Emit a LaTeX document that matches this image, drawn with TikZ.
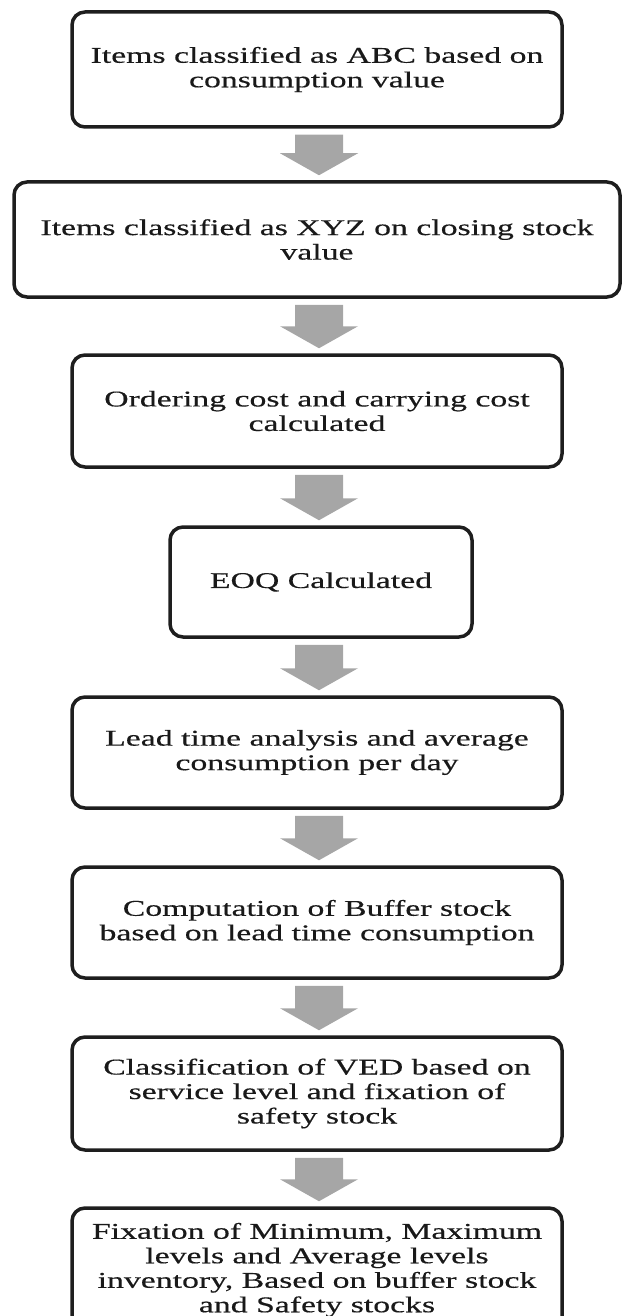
\documentclass[tikz,border=0pt]{standalone}
\usepackage{fontspec}
\setmainfont{Liberation Serif}[FakeStretch=1.5,FakeBold=0.4]
\usetikzlibrary{calc}
\definecolor{agray}{RGB}{166,166,166}
\definecolor{bline}{RGB}{30,30,30}
\definecolor{tcol}{RGB}{25,25,25}
\begin{document}
\begin{tikzpicture}[x=1pt,y=-1pt,
  box/.style={draw=bline, line width=3.5pt, rounded corners=13pt, fill=white,
    inner sep=0pt, align=center, text=tcol,
    font=\fontsize{22.5}{24.5}\selectfont},
  flowarrow/.style={fill=agray, draw=none}]
\useasboundingbox (0,0) rectangle (623,1316);
\coordinate (ax) at (319,0);
\node[box, minimum width=490pt, minimum height=115pt] (b1) at (317,69.5)
  {Items classified as ABC based on\\consumption value};
\node[box, minimum width=606pt, minimum height=115pt] (b2) at (317,239.5)
  {Items classified as XYZ on closing stock\\value};
\node[box, minimum width=490pt, minimum height=112pt] (b3) at (317,411)
  {Ordering cost and carrying cost\\calculated};
\node[box, minimum width=302pt, minimum height=110pt] (b4) at (321,582)
  {EOQ Calculated};
\node[box, minimum width=490pt, minimum height=111pt] (b5) at (317,752.5)
  {Lead time analysis and average\\consumption per day};
\node[box, minimum width=490pt, minimum height=111pt] (b6) at (317,922.5)
  {Computation of Buffer stock\\based on lead time consumption};
\node[box, minimum width=490pt, minimum height=113pt] (b7) at (317,1093.5)
  {Classification of VED based on\\service level and fixation of\\safety stock};
\node[box, minimum width=490pt, minimum height=124pt] (b8) at (317,1270)
  {Fixation of Minimum, Maximum\\levels and Average levels\\inventory, Based on buffer stock\\and Safety stocks};
\foreach \a/\b in {b1/b2,b2/b3,b3/b4,b4/b5,b5/b6,b6/b7,b7/b8}{
  \fill[flowarrow]
    ($(ax |- \a.south)+(-24,6)$) -- ($(ax |- \a.south)+(24,6)$)
    -- ($(ax |- \b.north)+(24,-27)$) -- ($(ax |- \b.north)+(39,-27)$)
    -- ($(ax |- \b.north)+(0,-5)$)
    -- ($(ax |- \b.north)+(-39,-27)$) -- ($(ax |- \b.north)+(-24,-27)$) -- cycle;
}
\end{tikzpicture}
\end{document}
